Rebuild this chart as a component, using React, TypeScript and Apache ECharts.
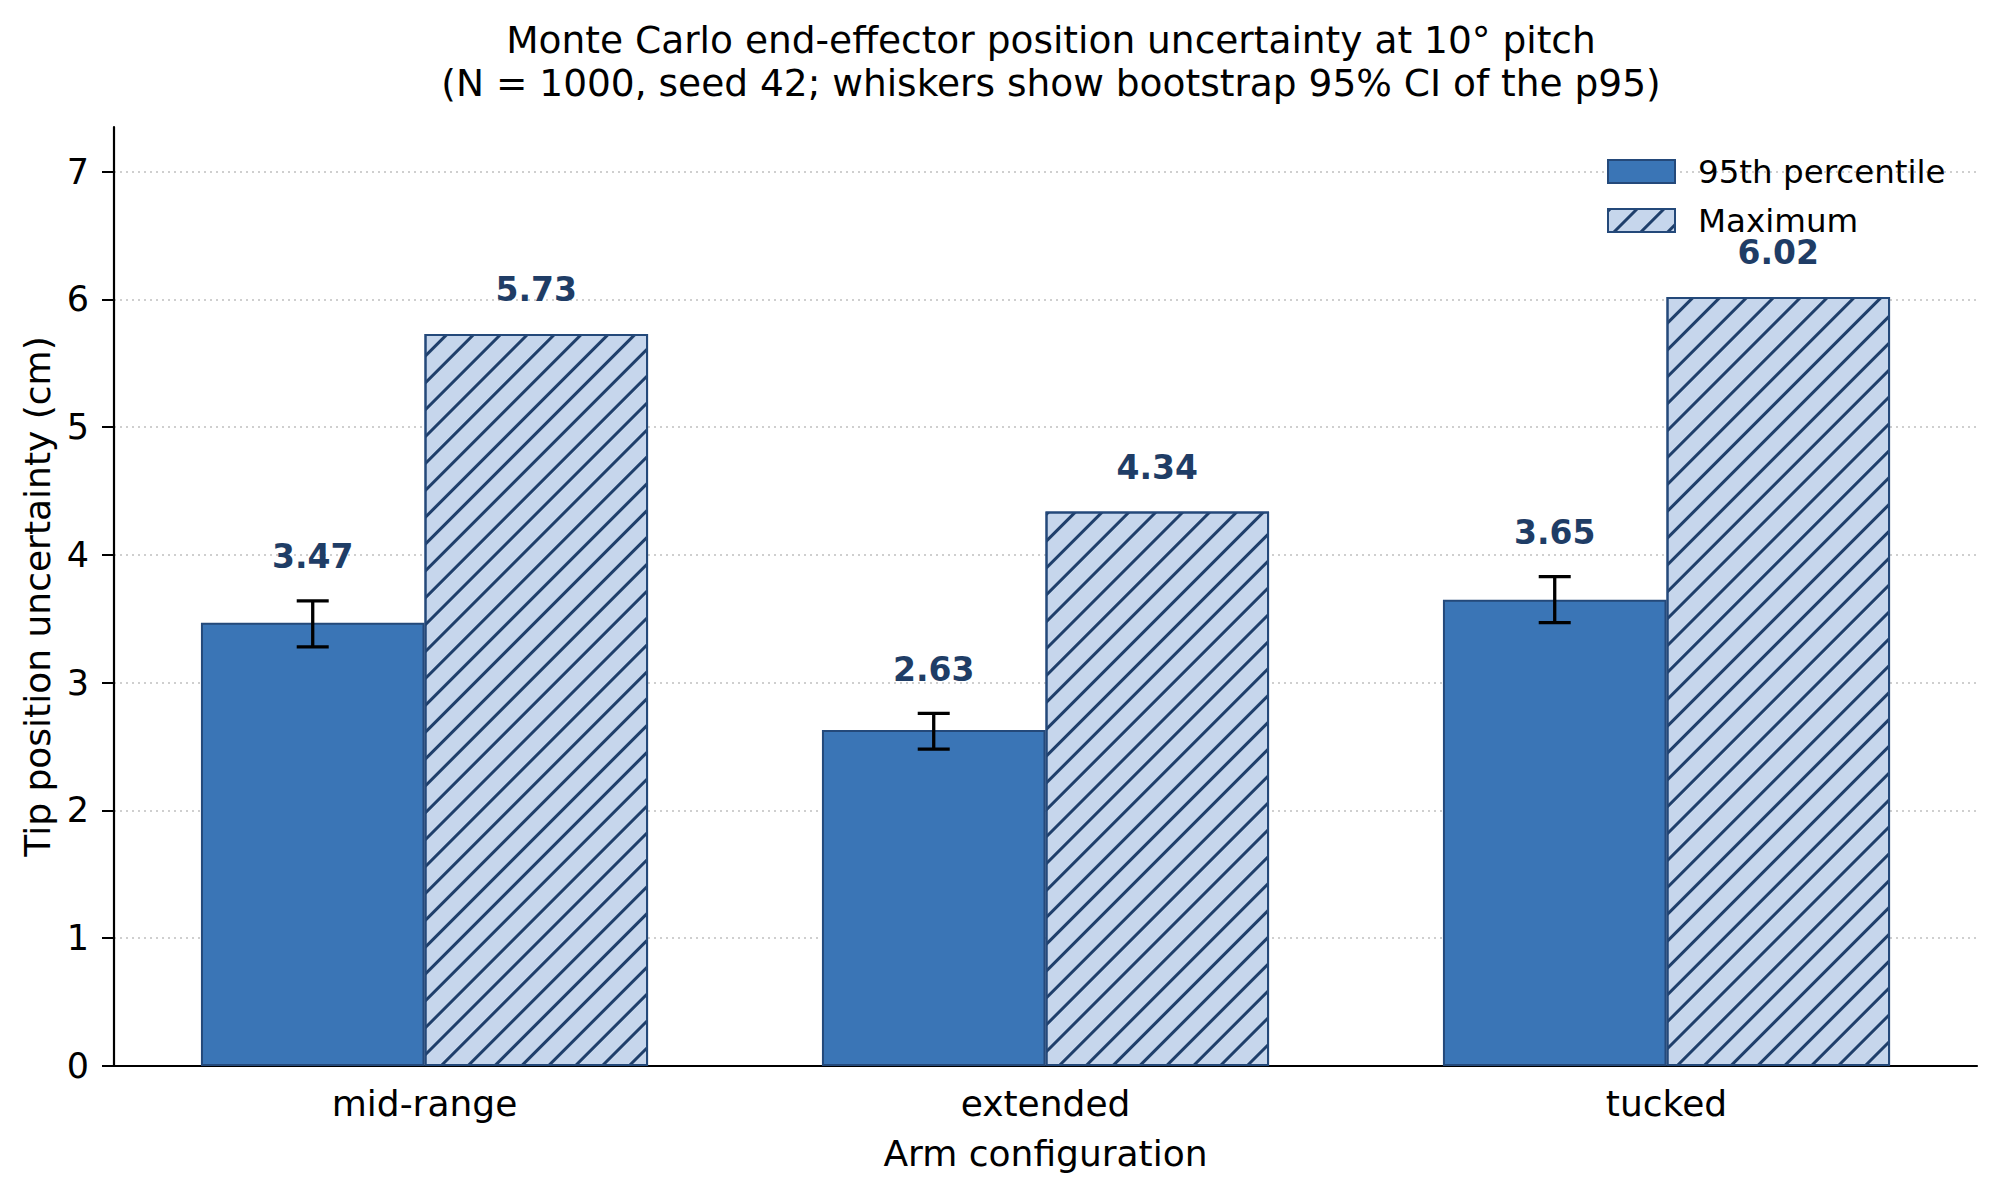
import React, { useEffect, useRef } from "react";
import * as echarts from "echarts";

// Arm configurations and Monte Carlo results (cm)
const configurations = ["mid-range", "extended", "tucked"];
const p95Values = [3.47, 2.63, 3.65];
const maxValues = [5.73, 4.34, 6.02];
// Bootstrap 95% CI of the p95
const ciLow = [3.28, 2.48, 3.47];
const ciHigh = [3.64, 2.76, 3.83];

const seriesNames = ["95th percentile", "Maximum"];
const titleLines = [
  "Monte Carlo end-effector position uncertainty at 10° pitch",
  "(N = 1000, seed 42; whiskers show bootstrap 95% CI of the p95)",
];

const FONT = "DejaVu Sans";
const P95_FILL = "#3a75b6";
const MAX_FILL = "#c6d6ec";
const EDGE = "#24497a";
const HATCH = "#1f3f6b";
const LABEL = "#1f3d66";
const BAR_FRACTION = 0.36;

export default function App() {
  const ref = useRef<HTMLDivElement>(null);

  useEffect(() => {
    if (!ref.current) return;
    const chart = echarts.init(ref.current, null, { renderer: "svg" });

    const errorData = configurations.map((_, i) => [i, p95Values[i], ciLow[i], ciHigh[i]]);

    chart.setOption({
      animation: false,
      backgroundColor: "#ffffff",
      textStyle: { fontFamily: FONT },
      title: {
        text: titleLines.join("\n"),
        left: 1046,
        top: 13,
        textAlign: "center",
        textStyle: {
          fontFamily: FONT,
          fontSize: 37.5,
          fontWeight: "normal",
          color: "#000",
          lineHeight: 43,
        },
      },
      legend: {
        orient: "vertical",
        left: 1602,
        top: 150,
        itemWidth: 67,
        itemHeight: 23,
        itemGap: 16,
        icon: "rect",
        data: seriesNames,
        textStyle: {
          fontFamily: FONT,
          fontSize: 32.5,
          color: "#000",
          padding: [0, 0, 0, 18],
        },
      },
      grid: { left: 114, right: 22, top: 127, bottom: 131, containLabel: false },
      xAxis: {
        type: "category",
        data: configurations,
        name: "Arm configuration",
        nameLocation: "middle",
        nameGap: 69,
        nameTextStyle: { fontFamily: FONT, fontSize: 36, color: "#000" },
        axisLine: { lineStyle: { color: "#000", width: 2.2 } },
        axisTick: { alignWithLabel: true, length: 12, lineStyle: { color: "#000", width: 2 } },
        axisLabel: { fontFamily: FONT, fontSize: 36, color: "#000", margin: 19 },
        splitLine: { show: false },
      },
      yAxis: {
        type: "value",
        min: 0,
        max: 7.35,
        interval: 1,
        name: "Tip position uncertainty (cm)",
        nameLocation: "middle",
        nameGap: 57,
        nameTextStyle: { fontFamily: FONT, fontSize: 36, color: "#000" },
        axisLine: { show: true, lineStyle: { color: "#000", width: 2.2 } },
        axisTick: { show: true, length: 12, lineStyle: { color: "#000", width: 2 } },
        axisLabel: { fontFamily: FONT, fontSize: 35, color: "#000", margin: 25, showMaxLabel: false },
        splitLine: {
          show: true,
          showMaxLine: false,
          lineStyle: { color: "#cfcfcf", width: 2, type: [2, 4] },
        },
      },
      series: [
        {
          name: seriesNames[0],
          type: "bar",
          data: p95Values,
          barWidth: `${BAR_FRACTION * 100}%`,
          barGap: "0%",
          itemStyle: { color: P95_FILL, borderColor: EDGE, borderWidth: 2 },
          z: 2,
        },
        {
          name: seriesNames[1],
          type: "bar",
          data: maxValues,
          barWidth: `${BAR_FRACTION * 100}%`,
          barGap: "0%",
          itemStyle: {
            color: MAX_FILL,
            borderColor: EDGE,
            borderWidth: 2,
            decal: {
              symbol: "rect",
              symbolSize: 1,
              color: HATCH,
              dashArrayX: [10, 0],
              dashArrayY: [2.4, 15.3],
              rotation: -Math.PI / 4,
            },
          },
          label: {
            show: true,
            position: "top",
            distance: 44,
            verticalAlign: "middle",
            fontFamily: FONT,
            fontSize: 33,
            fontWeight: "bold",
            color: LABEL,
            formatter: (p: any) => Number(p.value).toFixed(2),
          },
          z: 2,
        },
        {
          name: "ci",
          type: "custom",
          data: errorData,
          z: 5,
          renderItem: (params: any, api: any) => {
            const idx = api.value(0);
            const band = api.size([1, 0])[0];
            const center = api.coord([idx, api.value(1)]);
            const x = center[0] - (band * BAR_FRACTION) / 2;
            const lo = api.coord([idx, api.value(2)])[1];
            const hi = api.coord([idx, api.value(3)])[1];
            const cap = 16;
            const stroke = { stroke: "#000", lineWidth: 3.3 };
            return {
              type: "group",
              children: [
                { type: "line", shape: { x1: x, y1: lo, x2: x, y2: hi }, style: stroke },
                { type: "line", shape: { x1: x - cap, y1: lo, x2: x + cap, y2: lo }, style: stroke },
                { type: "line", shape: { x1: x - cap, y1: hi, x2: x + cap, y2: hi }, style: stroke },
                {
                  type: "text",
                  x: x,
                  y: hi - 44,
                  style: {
                    text: Number(api.value(1)).toFixed(2),
                    fontFamily: FONT,
                    fontSize: 33,
                    fontWeight: "bold",
                    fill: LABEL,
                    align: "center",
                    verticalAlign: "middle",
                  },
                },
              ],
            };
          },
        },
      ],
    });

    return () => chart.dispose();
  }, []);

  return (
    <div
      ref={ref}
      style={{ position: "fixed", left: 0, top: 0, width: 1999, height: 1197, background: "#fff" }}
    />
  );
}
